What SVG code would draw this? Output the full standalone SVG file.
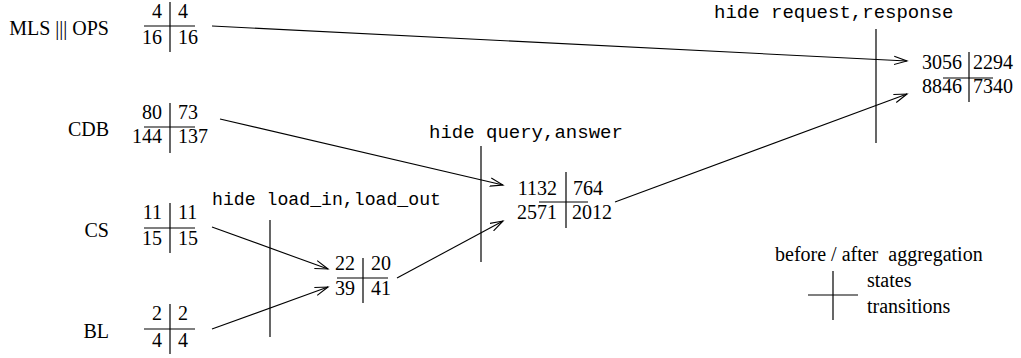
<svg xmlns="http://www.w3.org/2000/svg" width="1021" height="358" viewBox="0 0 1021 358">
  <style>
    .lbl { font-family: "Liberation Serif", "Times New Roman", serif; font-size: 20px; fill: #000; }
    .num { font-family: "Liberation Serif", "Times New Roman", serif; font-size: 20px; fill: #000; }
    .l { text-anchor: end; }
    .r { text-anchor: start; }
    .tt { font-family: "Liberation Mono", "Courier New", monospace; font-size: 19px; fill: #000; }
    .rule { stroke: #000; stroke-width: 1.2; fill: none; }
    .arrow { stroke: #000; stroke-width: 1.1; fill: none; marker-end: url(#vhead); }
  </style>
  <defs>
    <marker id="vhead" markerUnits="userSpaceOnUse" markerWidth="16" markerHeight="12" refX="13" refY="5" orient="auto">
      <path d="M0,0.8 L13,5 L0,9.2" fill="none" stroke="#000" stroke-width="1.1"/>
    </marker>
  </defs>
  <rect width="1021" height="358" fill="#fff"/>

  <!-- component: MLS ||| OPS -->
  <g id="mls_ops">
    <text class="lbl l" x="109" y="35">MLS ||| OPS</text>
    <line class="rule" x1="170" y1="2" x2="170" y2="52"/>
    <line class="rule" x1="144" y1="26" x2="195" y2="26"/>
    <text class="num l" x="162" y="18">4</text>
    <text class="num r" x="178" y="18">4</text>
    <text class="num l" x="162" y="44">16</text>
    <text class="num r" x="178" y="44">16</text>
  </g>

  <!-- component: CDB -->
  <g id="cdb">
    <text class="lbl l" x="109" y="136">CDB</text>
    <line class="rule" x1="170" y1="103" x2="170" y2="153"/>
    <line class="rule" x1="144" y1="127" x2="195" y2="127"/>
    <text class="num l" x="162" y="119">80</text>
    <text class="num r" x="178" y="119">73</text>
    <text class="num l" x="162" y="143">144</text>
    <text class="num r" x="178" y="143">137</text>
  </g>

  <!-- component: CS -->
  <g id="cs">
    <text class="lbl l" x="109" y="237">CS</text>
    <line class="rule" x1="170" y1="203" x2="170" y2="253"/>
    <line class="rule" x1="144" y1="228" x2="195" y2="228"/>
    <text class="num l" x="162" y="219">11</text>
    <text class="num r" x="178" y="219">11</text>
    <text class="num l" x="162" y="245">15</text>
    <text class="num r" x="178" y="245">15</text>
  </g>

  <!-- component: BL -->
  <g id="bl">
    <text class="lbl l" x="109" y="338">BL</text>
    <line class="rule" x1="170" y1="304" x2="170" y2="354"/>
    <line class="rule" x1="144" y1="329" x2="195" y2="329"/>
    <text class="num l" x="162" y="320">2</text>
    <text class="num r" x="178" y="320">2</text>
    <text class="num l" x="162" y="347">4</text>
    <text class="num r" x="178" y="347">4</text>
  </g>

  <!-- CS || BL after hiding load_in, load_out -->
  <g id="cs_bl">
    <line class="rule" x1="363" y1="258" x2="363" y2="303"/>
    <line class="rule" x1="337" y1="278" x2="388" y2="278"/>
    <text class="num l" x="355" y="270">22</text>
    <text class="num r" x="371" y="270">20</text>
    <text class="num l" x="355" y="295">39</text>
    <text class="num r" x="371" y="295">41</text>
  </g>

  <!-- CDB || (CS || BL) after hiding query, answer -->
  <g id="cdb_cs_bl">
    <line class="rule" x1="566" y1="172" x2="566" y2="228"/>
    <line class="rule" x1="539" y1="202" x2="588" y2="202"/>
    <text class="num l" x="557" y="195">1132</text>
    <text class="num r" x="573" y="195">764</text>
    <text class="num l" x="557" y="219">2571</text>
    <text class="num r" x="572" y="219">2012</text>
  </g>

  <!-- full system after hiding request, response -->
  <g id="system">
    <line class="rule" x1="969" y1="52" x2="969" y2="102"/>
    <line class="rule" x1="943" y1="78" x2="993" y2="78"/>
    <text class="num l" x="962" y="69">3056</text>
    <text class="num r" x="973" y="69">2294</text>
    <text class="num l" x="962" y="93">8846</text>
    <text class="num r" x="973" y="93">7340</text>
  </g>

  <!-- hiding steps -->
  <g id="hide_load">
    <text class="tt" x="212" y="205" textLength="229" lengthAdjust="spacingAndGlyphs">hide load_in,load_out</text>
    <line class="rule" x1="270" y1="220" x2="270" y2="337"/>
  </g>
  <g id="hide_query">
    <text class="tt" x="429" y="138">hide query,answer</text>
    <line class="rule" x1="481" y1="146" x2="481" y2="262"/>
  </g>
  <g id="hide_request">
    <text class="tt" x="714" y="18">hide request,response</text>
    <line class="rule" x1="876" y1="29" x2="876" y2="143"/>
  </g>

  <!-- composition connectors -->
  <g id="connectors">
    <line class="arrow" x1="212" y1="26" x2="907" y2="61"/>
    <line class="arrow" x1="220" y1="119" x2="503" y2="185"/>
    <line class="arrow" x1="212" y1="227" x2="328" y2="269"/>
    <line class="arrow" x1="212" y1="329" x2="328" y2="287"/>
    <line class="arrow" x1="397" y1="278" x2="503" y2="221"/>
    <line class="arrow" x1="615" y1="202" x2="907" y2="94"/>
  </g>

  <!-- legend -->
  <g id="legend">
    <text class="lbl" x="775" y="261" xml:space="preserve">before / after  aggregation</text>
    <line class="rule" x1="833" y1="271" x2="833" y2="320"/>
    <line class="rule" x1="808" y1="295" x2="858" y2="295"/>
    <text class="lbl" x="867" y="287">states</text>
    <text class="lbl" x="867" y="313">transitions</text>
  </g>
</svg>
